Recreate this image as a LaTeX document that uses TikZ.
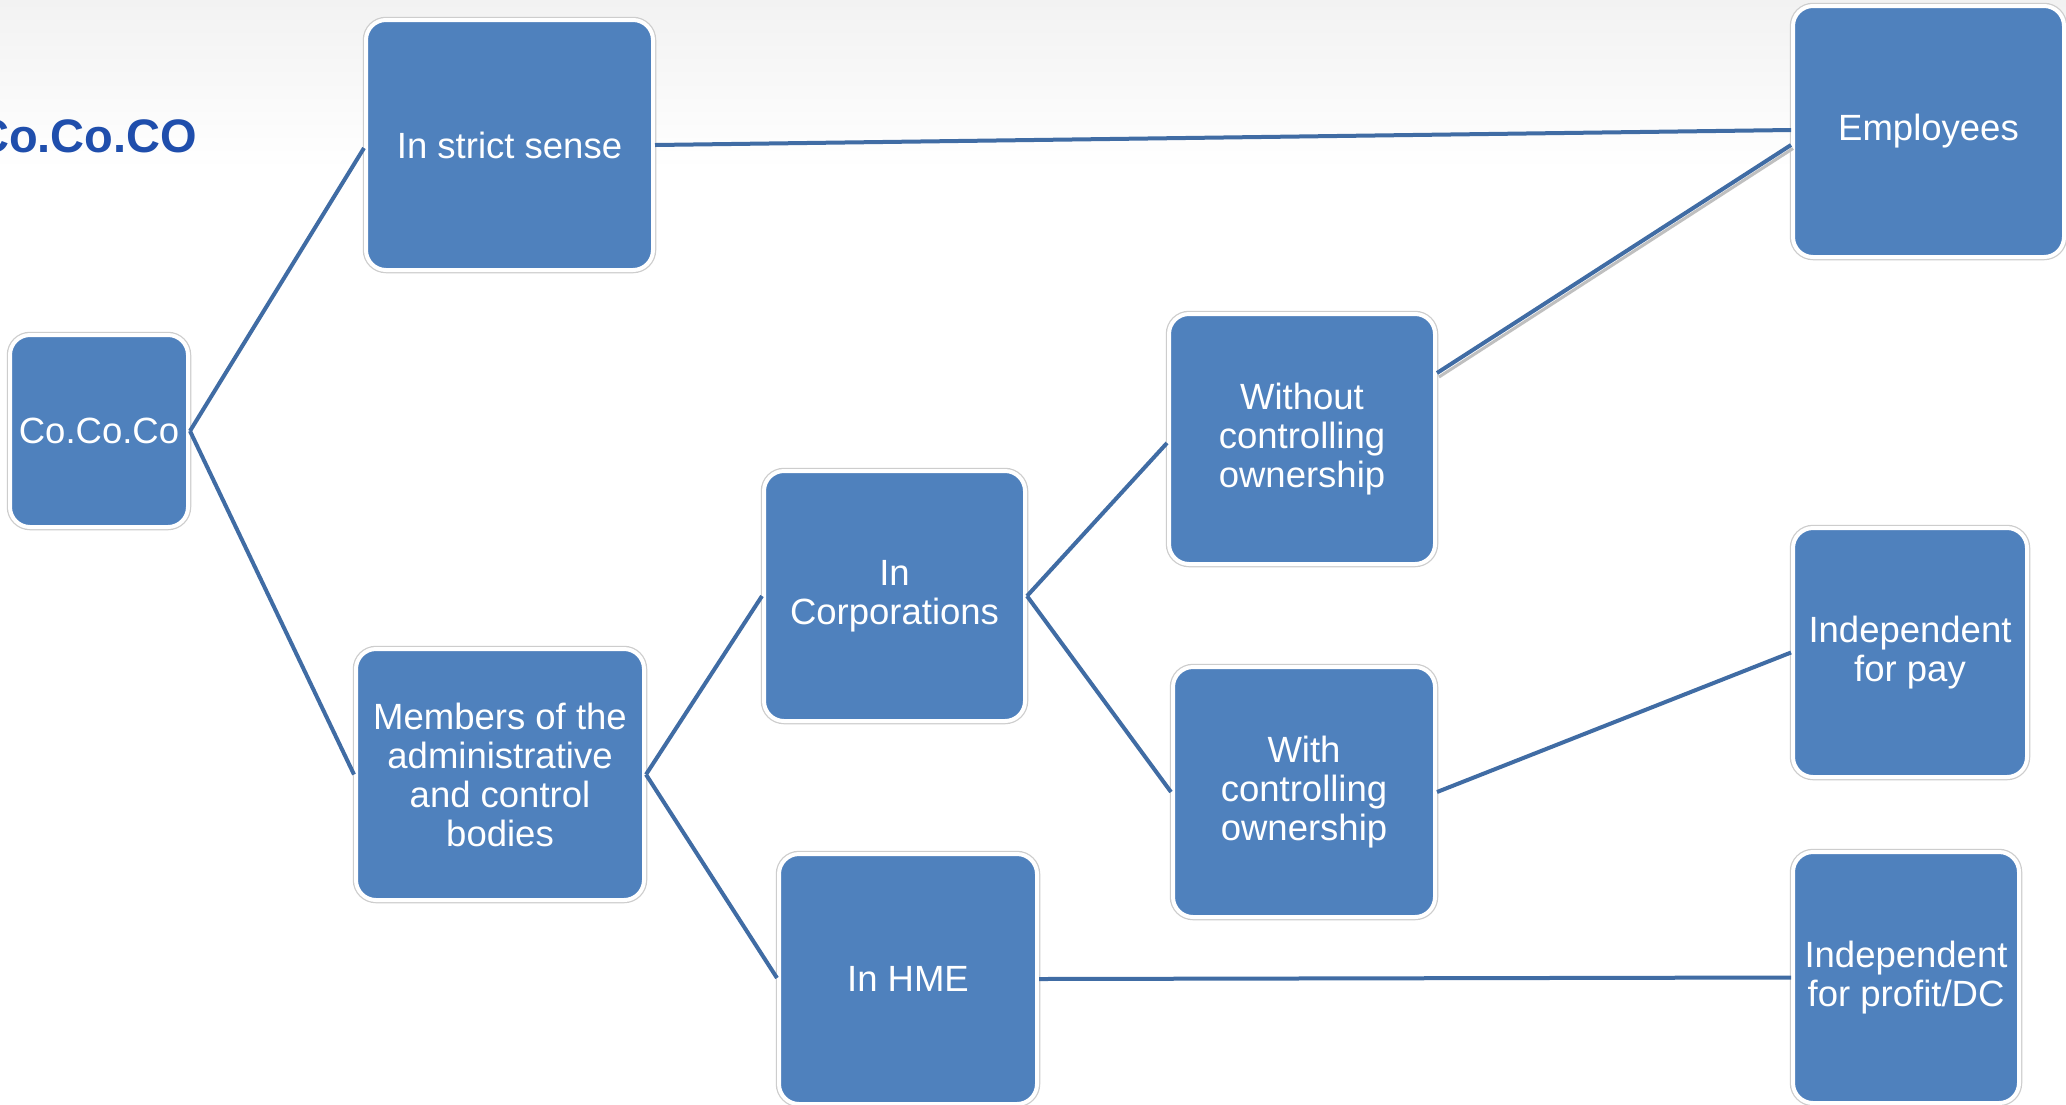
\documentclass[tikz,border=0pt]{standalone}
\usepackage{fontspec}
\setmainfont{Liberation Sans}
\definecolor{boxblue}{RGB}{79,129,189}
\definecolor{linkblue}{RGB}{64,108,164}
\definecolor{titleblue}{RGB}{31,78,172}
\definecolor{rimgray}{RGB}{205,205,205}
\tikzset{
  box/.style={rectangle, rounded corners=20pt, fill=boxblue, draw=white, line width=4pt,
    preaction={draw=rimgray, line width=6.5pt},
    inner sep=0pt, align=center, text=white,
    font=\fontsize{36.5}{39}\selectfont},
  link/.style={draw=linkblue, line width=4pt}
}
\begin{document}
\begin{tikzpicture}[x=1pt,y=-1pt]
\useasboundingbox (0,0) rectangle (2066,1104);
\begin{scope}
\clip (0,0) rectangle (2066,1104);
\shade[top color={rgb,255:red,242;green,242;blue,242}, bottom color=white] (0,0) rectangle (2066,170);
\fill[white] (0,170) rectangle (2066,1104);
\node[anchor=base west, inner sep=0pt, text=titleblue, font=\fontsize{47}{50}\selectfont\bfseries] (title) at (-25,152) {Co.Co.CO};

\node[box, minimum width=178pt, minimum height=192pt] (coco) at (99,431) {Co.Co.Co};
\node[box, minimum width=287pt, minimum height=250pt] (strict) at (509.5,145) {In strict sense};
\node[box, minimum width=271pt, minimum height=251pt] (emp) at (1928.5,131.5) {Employees};
\node[box, minimum width=266pt, minimum height=250pt] (without) at (1302,439) {Without\\controlling\\ownership};
\node[box, minimum width=261pt, minimum height=250pt] (corp) at (894.5,596) {In\\Corporations};
\node[box, minimum width=262pt, minimum height=250pt] (with) at (1304,792) {With\\controlling\\ownership};
\node[box, minimum width=234pt, minimum height=249pt] (pay) at (1910,652.5) {Independent\\for pay};
\node[box, minimum width=288pt, minimum height=251pt] (members) at (500,774.5) {Members of the\\administrative\\and control\\bodies};
\node[box, minimum width=258pt, minimum height=250pt] (hme) at (908,979) {In HME};
\node[box, minimum width=226pt, minimum height=251pt] (profit) at (1906,977.5) {Independent\\for profit/DC};

\draw[link] (coco.east) -- ([yshift=-3pt]strict.west);
\draw[link] (coco.east) -- (members.west);
\draw[link] (strict.east) -- ([yshift=1.5pt]emp.west);
\draw[link] (members.east) -- (corp.west);
\draw[link] (members.east) -- ([yshift=1pt]hme.west);
\draw[link] (corp.east) -- ([yshift=-4pt]without.west);
\draw[link] (corp.east) -- (with.west);
\draw[draw=black!25, line width=3pt] ([xshift=2pt,yshift=62pt]without.east) -- ([xshift=2pt,yshift=-17pt]emp.west);
\draw[link] ([yshift=66pt]without.east) -- ([yshift=-13.5pt]emp.west);
\draw[link] (with.east) -- (pay.west);
\draw[link] (hme.east) -- (profit.west);
\end{scope}
\end{tikzpicture}
\end{document}
